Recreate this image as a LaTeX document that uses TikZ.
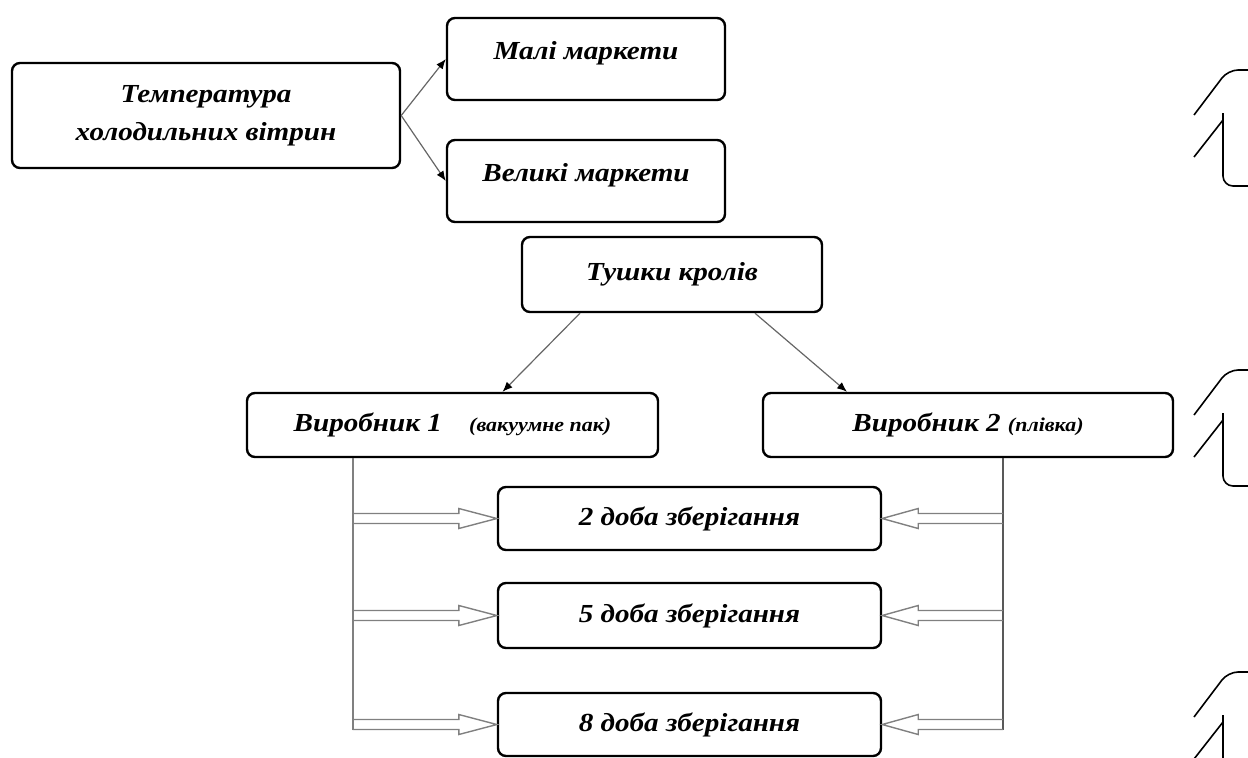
\documentclass[tikz,border=0pt]{standalone}
\usepackage{fontspec}
\setmainfont{Liberation Serif}[FakeStretch=1.12]
\usetikzlibrary{positioning, calc, arrows.meta}

\newcommand{\subtxt}[1]{{\fontsize{9.8}{11}\selectfont #1}}

\tikzset{
  box/.style={draw, line width=1.2pt, rounded corners=4pt, align=center, inner sep=2pt,
    font=\fontsize{13}{19}\selectfont\bfseries\itshape},
  link/.style={draw=gray!80!black, line width=0.6pt, -{Latex[black, length=5pt, width=4pt]}},
  hollow/.style={to path={($(\tikztostart)+(0,5)$) -- ($(\tikztotarget)+(#1,5)$)
    -- ($(\tikztotarget)+(#1,10)$) -- (\tikztotarget) -- ($(\tikztotarget)+(#1,-10)$)
    -- ($(\tikztotarget)+(#1,-5)$) -- ($(\tikztostart)+(0,-5)$)}},
  frag/.style={draw, line width=0.8pt}
}

\begin{document}
\begin{tikzpicture}[x=0.5pt, y=-0.5pt]
    \useasboundingbox (0,0) rectangle (1248,757);

    % upper part
    \node[box, minimum width=194pt, minimum height=52.5pt] (temp) at (206,115.5) {Температура\\холодильних вітрин};
    \node[box, minimum width=139pt, minimum height=41pt, text depth=9pt] (mali) at (586,59) {Малі маркети};
    \node[box, minimum width=139pt, minimum height=41pt, text depth=9pt] (veli) at (586,181) {Великі маркети};

    \draw[link] (temp.east) -- (mali.west);
    \draw[link] (temp.east) -- (veli.west);

    % producers
    \node[box, minimum width=150pt, minimum height=37.5pt] (tushky) at (672,274.5) {Тушки кролів};
    \node[box, minimum width=205.5pt, minimum height=32pt] (vyr1) at (452.5,425) {Виробник 1\hspace{10pt} \subtxt{(вакуумне пак)}};
    \node[box, minimum width=205pt, minimum height=32pt] (vyr2) at (968,425) {Виробник 2 \subtxt{(плівка)}};

    \draw[link] ([xshift=-46pt]tushky.south) -- ([xshift=25pt]vyr1.north);
    \draw[link] ([xshift=41.5pt]tushky.south) -- ([xshift=-60.5pt]vyr2.north);

    % storage days
    \node[box, minimum width=191.5pt, minimum height=31.5pt] (d2) at (689.5,518.5) {2 доба зберігання};
    \node[box, minimum width=191.5pt, minimum height=32.5pt] (d5) at (689.5,615.5) {5 доба зберігання};
    \node[box, minimum width=191.5pt, minimum height=31.5pt] (d8) at (689.5,724.5) {8 доба зберігання};

    \coordinate (lt) at ([xshift=-50pt]vyr1.south);
    \coordinate (l2) at (lt |- d2.west);
    \coordinate (l5) at (lt |- d5.west);
    \coordinate (l8) at (lt |- d8.west);
    \coordinate (rt) at ([xshift=17.5pt]vyr2.south);
    \coordinate (r2) at (rt |- d2.east);
    \coordinate (r5) at (rt |- d5.east);
    \coordinate (r8) at (rt |- d8.east);

    \draw[gray, line width=1pt] (lt) -- ($(l8)+(0,5)$);
    \draw[gray!70!black, line width=1pt] (rt) -- ($(r8)+(0,5)$);

    \draw[gray, line width=0.7pt] (l2) to[hollow=-38] (d2.west);
    \draw[gray, line width=0.7pt] (l5) to[hollow=-38] (d5.west);
    \draw[gray, line width=0.7pt] (l8) to[hollow=-38] (d8.west);
    \draw[gray, line width=0.7pt] (r2) to[hollow=36] (d2.east);
    \draw[gray, line width=0.7pt] (r5) to[hollow=36] (d5.east);
    \draw[gray, line width=0.7pt] (r8) to[hollow=36] (d8.east);

    % cut pieces at the right edge
    \foreach \y in {70,370,672} {
        \draw[frag, rounded corners=5pt] (1194,\y+45) -- (1228,\y) -- (1248,\y);
        \draw[frag] (1194,\y+87) -- (1223,\y+50);
        \draw[frag, rounded corners=5pt] (1223,\y+43) -- (1223,\y+116) -- (1248,\y+116);
    }
\end{tikzpicture}
\end{document}
